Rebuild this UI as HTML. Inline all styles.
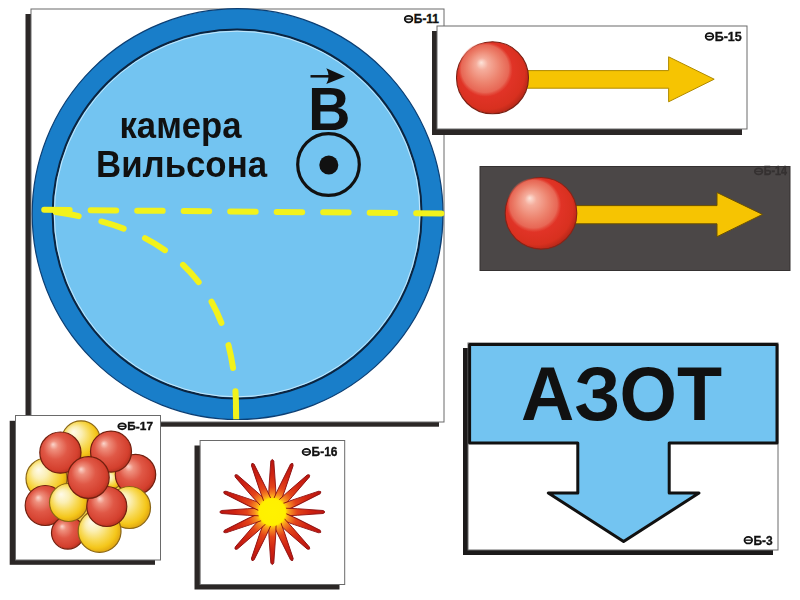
<!DOCTYPE html>
<html><head><meta charset="utf-8"><title>Камера Вильсона</title>
<style>
html,body{margin:0;padding:0;background:#fff;}
body{width:800px;height:600px;overflow:hidden;}
svg{display:block;filter:blur(0.4px);}
text{font-family:"Liberation Sans",sans-serif;}
</style></head>
<body>
<svg width="800" height="600" viewBox="0 0 800 600">
<defs>
  <radialGradient id="redBall" cx="0.45" cy="0.45" r="0.6" fx="0.35" fy="0.3">
    <stop offset="0" stop-color="#ee6a55"/>
    <stop offset="0.5" stop-color="#e5352a"/>
    <stop offset="0.85" stop-color="#d8301f"/>
    <stop offset="1" stop-color="#a82416"/>
  </radialGradient>
  <radialGradient id="redHi" cx="0.5" cy="0.5" r="0.5" fx="0.42" fy="0.37">
    <stop offset="0" stop-color="#fde4da"/>
    <stop offset="0.22" stop-color="#f5ad9c"/>
    <stop offset="0.6" stop-color="#ed846f"/>
    <stop offset="0.88" stop-color="#e86d5a" stop-opacity="0.9"/>
    <stop offset="1" stop-color="#e45a48" stop-opacity="0.1"/>
  </radialGradient>
  <radialGradient id="redN" cx="0.45" cy="0.45" r="0.58" fx="0.32" fy="0.3">
    <stop offset="0" stop-color="#fbd6cc"/>
    <stop offset="0.18" stop-color="#ef907e"/>
    <stop offset="0.5" stop-color="#e05846"/>
    <stop offset="0.85" stop-color="#d4402e"/>
    <stop offset="1" stop-color="#b2301e"/>
  </radialGradient>
  <radialGradient id="yelN" cx="0.45" cy="0.45" r="0.58" fx="0.3" fy="0.28">
    <stop offset="0" stop-color="#fffbea"/>
    <stop offset="0.3" stop-color="#fbefb4"/>
    <stop offset="0.58" stop-color="#f8da58"/>
    <stop offset="0.82" stop-color="#f4c61a"/>
    <stop offset="1" stop-color="#dca010"/>
  </radialGradient>
  <radialGradient id="starG" cx="0" cy="0" r="53" gradientUnits="userSpaceOnUse">
    <stop offset="0" stop-color="#ffe800"/>
    <stop offset="0.27" stop-color="#ffc810"/>
    <stop offset="0.34" stop-color="#f68a22"/>
    <stop offset="0.47" stop-color="#e4441a"/>
    <stop offset="0.7" stop-color="#d02412"/>
    <stop offset="1" stop-color="#b81410"/>
  </radialGradient>
  <radialGradient id="coreG" cx="0.5" cy="0.5" r="0.5">
    <stop offset="0" stop-color="#fff200"/>
    <stop offset="0.88" stop-color="#fff000"/>
    <stop offset="1" stop-color="#ffe200"/>
  </radialGradient>
</defs>

<!-- ============ Big card: Wilson chamber ============ -->
<rect x="25.5" y="14" width="413.5" height="412.7" fill="#2b2726"/>
<rect x="31" y="9" width="413" height="413" fill="#fff" stroke="#6a6a6a" stroke-width="1"/>
<g fill="#111" stroke="#111"><ellipse cx="408.6" cy="19.1" rx="3.80" ry="3.25" fill="none" stroke-width="1.8"/><line x1="405.4" y1="19.1" x2="411.8" y2="19.1" stroke-width="1.3"/><text x="413.8" y="23.4" stroke-width="0.35" font-size="12.9" font-weight="bold" textLength="25.2" lengthAdjust="spacingAndGlyphs">Б-11</text></g>

<circle cx="237.6" cy="214.1" r="205.4" fill="#197ec9" stroke="#0c3f74" stroke-width="1.2"/>
<circle cx="237.1" cy="214" r="184.5" fill="#73c4f1" stroke="#0b2440" stroke-width="2"/>
<circle cx="237.1" cy="214" r="182.8" fill="none" stroke="#dff3ff" stroke-width="1" opacity="0.75"/>

<text x="119.5" y="138" font-size="36" font-weight="bold" fill="#111" textLength="122" lengthAdjust="spacingAndGlyphs">камера</text>
<text x="96" y="176.7" font-size="36" font-weight="bold" fill="#111" textLength="171" lengthAdjust="spacingAndGlyphs">Вильсона</text>

<!-- B vector -->
<line x1="310.5" y1="76.3" x2="336" y2="76.3" stroke="#111" stroke-width="2.5"/>
<path d="M326.3,68.3 L345,76.5 L326.3,84 Q331,76.3 326.3,68.3 Z" fill="#111"/>
<text x="308" y="129.5" font-size="62" font-weight="bold" fill="#111" textLength="42.5" lengthAdjust="spacingAndGlyphs">B</text>
<circle cx="328.5" cy="164.5" r="30.8" fill="none" stroke="#111" stroke-width="3.2"/>
<circle cx="328.8" cy="165" r="9.5" fill="#111"/>

<!-- tracks -->
<line x1="44.2" y1="209.8" x2="441.4" y2="213.4" stroke="#f2f21c" stroke-width="6" stroke-linecap="round" stroke-dasharray="25.5 21"/>
<path d="M41.9,209.9 C96.2,218.94 241.59,231.07 235.93,422.13" fill="none" stroke="#f2f21c" stroke-width="6" stroke-linecap="round" stroke-dasharray="23.4 23.3" stroke-dashoffset="-14"/>
<line x1="235.9" y1="405" x2="236.2" y2="419.3" stroke="#f2f21c" stroke-width="6"/>

<!-- ============ Card 15: ball + arrow ============ -->
<rect x="432" y="31" width="310" height="104" fill="#2b2726"/>
<rect x="437" y="26" width="310" height="103" fill="#fff" stroke="#6a6a6a" stroke-width="1"/>
<g fill="#111" stroke="#111"><ellipse cx="709.5" cy="36.4" rx="3.80" ry="3.35" fill="none" stroke-width="1.8"/><line x1="706.3" y1="36.4" x2="712.7" y2="36.4" stroke-width="1.3"/><text x="714.7" y="40.8" stroke-width="0.35" font-size="13.3" font-weight="bold" textLength="27.0" lengthAdjust="spacingAndGlyphs">Б-15</text></g>
<path d="M526,70.6 L668.6,70.6 L668.6,56.8 L714.2,79.2 L668.6,101.8 L668.6,88.2 L526,88.2 Z" fill="#f6c402" stroke="#b08a00" stroke-width="1"/>
<circle cx="492.5" cy="77.8" r="36" fill="url(#redBall)" stroke="#7a2014" stroke-width="1.1"/>
<circle cx="485.5" cy="69.5" r="27" fill="url(#redHi)"/>

<!-- ============ Dark card ============ -->
<rect x="480" y="166.5" width="310" height="104" fill="#4b4747" stroke="#353131" stroke-width="1"/>
<g fill="#353131" stroke="#353131"><ellipse cx="758.6" cy="171.4" rx="3.80" ry="3.05" fill="none" stroke-width="1.8"/><line x1="755.4" y1="171.4" x2="761.8" y2="171.4" stroke-width="1.3"/><text x="763.8" y="175.4" stroke-width="0.35" font-size="12.0" font-weight="bold" textLength="23.2" lengthAdjust="spacingAndGlyphs">Б-14</text></g>
<path d="M574,205.6 L717,205.6 L717,192.5 L762.5,214.4 L717,236.7 L717,223.8 L574,223.8 Z" fill="#f6c402" stroke="#6a5000" stroke-width="1"/>
<circle cx="541" cy="213.3" r="35.8" fill="url(#redBall)" stroke="#8a2216" stroke-width="1.1"/>
<circle cx="534" cy="205" r="27" fill="url(#redHi)"/>

<!-- ============ Card 17: nucleus ============ -->
<rect x="9.7" y="420.8" width="145.3" height="144" fill="#2b2726"/>
<rect x="15.5" y="415.5" width="145" height="144.5" fill="#fff" stroke="#6a6a6a" stroke-width="1"/>
<g fill="#111" stroke="#111"><ellipse cx="122.1" cy="426.3" rx="3.80" ry="2.95" fill="none" stroke-width="1.8"/><line x1="118.9" y1="426.3" x2="125.3" y2="426.3" stroke-width="1.3"/><text x="127.3" y="430.2" stroke-width="0.35" font-size="11.7" font-weight="bold" textLength="25.7" lengthAdjust="spacingAndGlyphs">Б-17</text></g>
<circle cx="88" cy="488" r="40" fill="#f3cf4a"/>
<g stroke-width="1.2">
  <circle cx="81" cy="440" r="19.2" fill="url(#yelN)" stroke="#8a6616"/>
  <circle cx="46.5" cy="478.5" r="20.5" fill="url(#yelN)" stroke="#8a6616"/>
  <circle cx="112" cy="480" r="9" fill="url(#yelN)" stroke="#8a6616"/>
  <circle cx="135.5" cy="474.5" r="20.2" fill="url(#redN)" stroke="#72200f"/>
  <circle cx="60.4" cy="452.6" r="20.6" fill="url(#redN)" stroke="#72200f"/>
  <circle cx="111" cy="451.6" r="20.5" fill="url(#redN)" stroke="#72200f"/>
  <circle cx="45.2" cy="505.5" r="20" fill="url(#redN)" stroke="#72200f"/>
  <circle cx="129.5" cy="507.5" r="21" fill="url(#yelN)" stroke="#8a6616"/>
  <circle cx="67.8" cy="532.8" r="16.3" fill="url(#redN)" stroke="#72200f"/>
  <circle cx="99.6" cy="531" r="21.4" fill="url(#yelN)" stroke="#8a6616"/>
  <circle cx="68.5" cy="502.5" r="19" fill="url(#yelN)" stroke="#8a6616"/>
  <circle cx="106.8" cy="506.5" r="20" fill="url(#redN)" stroke="#72200f"/>
  <circle cx="88.4" cy="477.5" r="20.8" fill="url(#redN)" stroke="#72200f"/>
</g>

<!-- ============ Card 16: star ============ -->
<rect x="194.5" y="445.5" width="145" height="144" fill="#2b2726"/>
<rect x="200.1" y="440.5" width="144.6" height="144" fill="#fff" stroke="#6a6a6a" stroke-width="1"/>
<g fill="#111" stroke="#111"><ellipse cx="306.4" cy="452.0" rx="3.80" ry="3.05" fill="none" stroke-width="1.8"/><line x1="303.2" y1="452.0" x2="309.6" y2="452.0" stroke-width="1.3"/><text x="311.6" y="456.0" stroke-width="0.35" font-size="12.0" font-weight="bold" textLength="25.9" lengthAdjust="spacingAndGlyphs">Б-16</text></g>
<g id="star" fill="url(#starG)" stroke="#8e1010" stroke-width="0.9">
<path transform="translate(272.3 512) rotate(0.0)" d="M-4,-8 L-3.3,-25 L-1.5,-50.8 Q0,-54.2 1.5,-50.8 L3.3,-25 L4,-8 Z"/>
<path transform="translate(272.3 512) rotate(22.5)" d="M-4,-8 L-3.3,-25 L-1.5,-50.8 Q0,-54.2 1.5,-50.8 L3.3,-25 L4,-8 Z"/>
<path transform="translate(272.3 512) rotate(45.0)" d="M-4,-8 L-3.3,-25 L-1.5,-50.8 Q0,-54.2 1.5,-50.8 L3.3,-25 L4,-8 Z"/>
<path transform="translate(272.3 512) rotate(67.5)" d="M-4,-8 L-3.3,-25 L-1.5,-50.8 Q0,-54.2 1.5,-50.8 L3.3,-25 L4,-8 Z"/>
<path transform="translate(272.3 512) rotate(90.0)" d="M-4,-8 L-3.3,-25 L-1.5,-50.8 Q0,-54.2 1.5,-50.8 L3.3,-25 L4,-8 Z"/>
<path transform="translate(272.3 512) rotate(112.5)" d="M-4,-8 L-3.3,-25 L-1.5,-50.8 Q0,-54.2 1.5,-50.8 L3.3,-25 L4,-8 Z"/>
<path transform="translate(272.3 512) rotate(135.0)" d="M-4,-8 L-3.3,-25 L-1.5,-50.8 Q0,-54.2 1.5,-50.8 L3.3,-25 L4,-8 Z"/>
<path transform="translate(272.3 512) rotate(157.5)" d="M-4,-8 L-3.3,-25 L-1.5,-50.8 Q0,-54.2 1.5,-50.8 L3.3,-25 L4,-8 Z"/>
<path transform="translate(272.3 512) rotate(180.0)" d="M-4,-8 L-3.3,-25 L-1.5,-50.8 Q0,-54.2 1.5,-50.8 L3.3,-25 L4,-8 Z"/>
<path transform="translate(272.3 512) rotate(202.5)" d="M-4,-8 L-3.3,-25 L-1.5,-50.8 Q0,-54.2 1.5,-50.8 L3.3,-25 L4,-8 Z"/>
<path transform="translate(272.3 512) rotate(225.0)" d="M-4,-8 L-3.3,-25 L-1.5,-50.8 Q0,-54.2 1.5,-50.8 L3.3,-25 L4,-8 Z"/>
<path transform="translate(272.3 512) rotate(247.5)" d="M-4,-8 L-3.3,-25 L-1.5,-50.8 Q0,-54.2 1.5,-50.8 L3.3,-25 L4,-8 Z"/>
<path transform="translate(272.3 512) rotate(270.0)" d="M-4,-8 L-3.3,-25 L-1.5,-50.8 Q0,-54.2 1.5,-50.8 L3.3,-25 L4,-8 Z"/>
<path transform="translate(272.3 512) rotate(292.5)" d="M-4,-8 L-3.3,-25 L-1.5,-50.8 Q0,-54.2 1.5,-50.8 L3.3,-25 L4,-8 Z"/>
<path transform="translate(272.3 512) rotate(315.0)" d="M-4,-8 L-3.3,-25 L-1.5,-50.8 Q0,-54.2 1.5,-50.8 L3.3,-25 L4,-8 Z"/>
<path transform="translate(272.3 512) rotate(337.5)" d="M-4,-8 L-3.3,-25 L-1.5,-50.8 Q0,-54.2 1.5,-50.8 L3.3,-25 L4,-8 Z"/>
</g>
<circle cx="272.3" cy="512" r="14.2" fill="url(#coreG)"/>

<!-- ============ Card 3: АЗОТ ============ -->
<rect x="463" y="348" width="310" height="207" fill="#1c1a1a"/>
<rect x="468" y="343" width="310" height="207" fill="#fff" stroke="#6a6a6a" stroke-width="1"/>
<path d="M469.6,344.5 L777,344.5 L777,443 L669.2,443 L669.2,493 L699,493 L623.6,541.5 L548.3,493 L577.8,493 L577.8,443 L469.6,443 Z" fill="#73c4f1" stroke="#111" stroke-width="3" stroke-linejoin="round"/>
<text x="521" y="419.8" font-size="75.5" font-weight="bold" fill="#111" textLength="201" lengthAdjust="spacingAndGlyphs">АЗОТ</text>
<g fill="#111" stroke="#111"><ellipse cx="748.3" cy="540.2" rx="3.80" ry="3.25" fill="none" stroke-width="1.8"/><line x1="745.1" y1="540.2" x2="751.5" y2="540.2" stroke-width="1.3"/><text x="753.5" y="544.5" stroke-width="0.35" font-size="12.7" font-weight="bold" textLength="19.2" lengthAdjust="spacingAndGlyphs">Б-3</text></g>
</svg>
</body></html>
